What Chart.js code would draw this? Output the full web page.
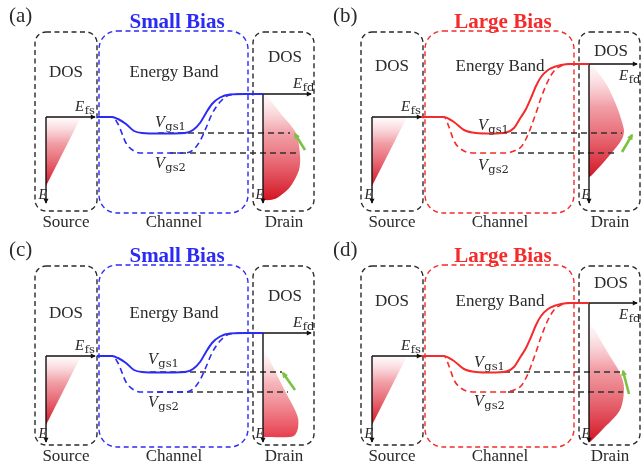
<!DOCTYPE html>
<html>
<head>
<meta charset="utf-8">
<script src="https://cdn.jsdelivr.net/npm/chart.js@4.4.0/dist/chart.umd.min.js"></script>
<style>
  html, body { margin: 0; padding: 0; background: #fff; }
  #wrap { position: relative; width: 642px; height: 468px; }
  #wrap canvas { position: absolute; }
</style>
</head>
<body>
<div id="wrap">
  <canvas id="pa" width="321" height="234" style="left:0;top:0"></canvas>
  <canvas id="pb" width="321" height="234" style="left:321px;top:0"></canvas>
  <canvas id="pc" width="321" height="234" style="left:0;top:234px"></canvas>
  <canvas id="pd" width="321" height="234" style="left:321px;top:234px"></canvas>
</div>
<script>
// band profile: position along the device vs energy (relative to E_fs)
const smallBiasPos = [97, 112, 118, 126, 134, 142, 160, 185, 193, 200, 206, 212, 220, 230, 245, 263];
const smallBiasVgs1 = [0, 0, -2, -7, -14, -16, -16.5, -16, -13, -6, 4, 13, 19.5, 22.5, 23, 23];
const smallBiasVgs2 = [0, 0, -7, -26, -34, -36, -36, -36, -33, -24, -11, 3, 15, 22, 23, 23];

const largeBiasPos = [95, 118, 123, 128, 138, 150, 165, 180, 188, 195, 200, 205, 210, 215, 222, 228, 235, 245, 263];
const largeBiasVgs1 = [0, 0, -2, -5, -13, -16, -16.5, -15.5, -11, 0, 8, 19, 31, 40, 47, 50, 52, 53, 53];
const largeBiasVgs2 = [0, 0, -10, -24, -34, -36, -36, -36, -34, -30, -22, -10, 4, 19, 36, 46, 51, 53, 53];

const vgsLevels = [-16, -36];
const drainFermi = [23, 53, 23, 53]; // panels a..d

// where the dashed Vgs reference lines run (position from, to)
const refVgs1Span = [[158, 290], [175, 296], [150, 282], [178, 294]];
const refVgs2Span = [[170, 298], [192, 289], [157, 288], [182, 297]];

// density of states (width from the axis) vs energy
const sourceDos = [0, 35, 0];
const sourceDosE = [0, 0, -69];
const drainDos = [
  [0, 3, 18, 33, 37, 36, 27, 14, 7, 0],
  [0, 3, 11, 19, 28, 33, 35, 33, 25, 14, 2, 0],
  [0, 2, 12, 22, 31, 35, 35, 32, 27, 0],
  [0, 2, 19, 31, 35, 31, 13, 1, 0]
];
const drainDosE = [
  [23, 22, 3, -16, -38, -53, -70, -81, -83, -83],
  [53, 52, 42, 30, 10, -5, -14, -22, -33, -46, -59, -60],
  [5, 5, -15, -35, -52, -62, -72, -79, -81, -81],
  [32, 32, 3, -17, -32, -54, -74, -86, -86]
];

// green shift arrows: [position, energy] from -> to
const shiftFrom = [[305, -33], [296, -35], [295, -34], [303, -38]];
const shiftTo = [[295, -17], [306, -18], [283, -17], [297, -15]];

const SOURCE_AXIS = 46, DRAIN_AXIS = 263, AXIS_BOTTOM = -86;
const SERIF = "'Liberation Serif', 'Times New Roman', serif";
const SUBF = "'DejaVu Serif', serif";
const INK = '#2a2a2a';
const BLUE = '#2b2bf6', RED = '#f52a2a', GREEN = '#7cc142';

const deepFill = ['rgba(240,150,160,0.04)', 'rgba(230,78,92,0.55)', 'rgba(212,20,35,1)'];
const softFill = ['rgba(240,150,160,0.02)', 'rgba(236,105,115,0.5)', 'rgba(230,52,68,0.95)'];

const panels = [
  { id: 'pa', tag: '(a)', title: 'Small Bias', large: false, color: BLUE, xMin: 0, eTop: 117, tagX: 9, dosY: 73, drainDosY: 58, vgsX: 155, vgs1Y: -10, vgs2Y: -51, efdBelow: false, fill: deepFill },
  { id: 'pb', tag: '(b)', title: 'Large Bias', large: true, color: RED, xMin: -5, eTop: 117, tagX: 12, dosY: 67, drainDosY: 52, vgsX: 152, vgs1Y: -13, vgs2Y: -53, efdBelow: true, fill: deepFill },
  { id: 'pc', tag: '(c)', title: 'Small Bias', large: false, color: BLUE, xMin: 0, eTop: 122, tagX: 9, dosY: 80, drainDosY: 63, vgsX: 148, vgs1Y: -8, vgs2Y: -51, efdBelow: false, fill: softFill },
  { id: 'pd', tag: '(d)', title: 'Large Bias', large: true, color: RED, xMin: -5, eTop: 122, tagX: 12, dosY: 68, drainDosY: 50, vgsX: 148, vgs1Y: -11, vgs2Y: -50, efdBelow: true, fill: deepFill }
];

const regionBoxes = [
  { x0: 35, x1: 97, r: 11, accent: false },
  { x0: 99, x1: 248, r: 18, accent: true },
  { x0: 253, x1: 314, r: 11, accent: false }
];

function roundBox(ctx, x0, y0, x1, y1, r) {
  ctx.beginPath();
  ctx.moveTo(x0 + r, y0);
  ctx.lineTo(x1 - r, y0);
  ctx.arcTo(x1, y0, x1, y0 + r, r);
  ctx.lineTo(x1, y1 - r);
  ctx.arcTo(x1, y1, x1 - r, y1, r);
  ctx.lineTo(x0 + r, y1);
  ctx.arcTo(x0, y1, x0, y1 - r, r);
  ctx.lineTo(x0, y0 + r);
  ctx.arcTo(x0, y0, x0 + r, y0, r);
  ctx.closePath();
}

function subLabel(ctx, x, y, main, sub, size, subSize) {
  ctx.textAlign = 'left';
  ctx.textBaseline = 'alphabetic';
  ctx.font = 'italic ' + size + 'px ' + SERIF;
  ctx.fillText(main, x, y);
  const w = ctx.measureText(main).width;
  ctx.font = subSize + 'px ' + SUBF;
  ctx.fillText(sub, x + w + 0.5, y + 3);
}

function plainText(ctx, txt, x, y, font, align, base) {
  ctx.font = font;
  ctx.textAlign = align || 'center';
  ctx.textBaseline = base || 'middle';
  ctx.fillText(txt, x, y);
}

const schematic = {
  id: 'schematic',
  beforeDatasetsDraw(chart, args, p) {
    const ctx = chart.ctx, xs = chart.scales.x;
    ctx.save();
    ctx.lineWidth = 1.4;
    ctx.setLineDash([5, 3.5]);
    regionBoxes.forEach(b => {
      ctx.strokeStyle = b.accent ? p.color : INK;
      roundBox(ctx, xs.getPixelForValue(b.x0), b.accent ? 31 : 32,
        xs.getPixelForValue(b.x1), b.accent ? 213 : 211, b.r);
      ctx.stroke();
    });
    ctx.restore();
  },
  afterDatasetsDraw(chart, args, p) {
    const ctx = chart.ctx, xs = chart.scales.x, ys = chart.scales.y;
    const X = v => xs.getPixelForValue(v), Y = v => ys.getPixelForValue(v);

    // arrow heads at the end of flagged datasets
    chart.data.datasets.forEach((ds, i) => {
      if (!ds.arrow) return;
      const pts = chart.getDatasetMeta(i).data;
      const a = pts[pts.length - 2], b = pts[pts.length - 1];
      const ang = Math.atan2(b.y - a.y, b.x - a.x);
      const len = ds.arrow, w = len * 0.5;
      const tx = b.x + Math.cos(ang) * ds.borderWidth * 0.6, ty = b.y + Math.sin(ang) * ds.borderWidth * 0.6;
      ctx.save();
      ctx.fillStyle = ds.borderColor;
      ctx.beginPath();
      ctx.moveTo(tx, ty);
      ctx.lineTo(tx - len * Math.cos(ang) + w * Math.sin(ang), ty - len * Math.sin(ang) - w * Math.cos(ang));
      ctx.lineTo(tx - len * Math.cos(ang) - w * Math.sin(ang), ty - len * Math.sin(ang) + w * Math.cos(ang));
      ctx.closePath();
      ctx.fill();
      ctx.restore();
    });

    ctx.save();
    ctx.fillStyle = INK;
    plainText(ctx, p.tag, p.tagX, 22, '21px ' + SERIF, 'left', 'alphabetic');
    plainText(ctx, 'DOS', X(66), p.dosY, '17px ' + SERIF);
    plainText(ctx, 'Energy Band', X(174), p.dosY, '17px ' + SERIF);
    plainText(ctx, 'DOS', X(285), p.drainDosY, '17px ' + SERIF);
    plainText(ctx, 'Source', X(66), 227, '17px ' + SERIF, 'center', 'alphabetic');
    plainText(ctx, 'Channel', X(174), 227, '17px ' + SERIF, 'center', 'alphabetic');
    plainText(ctx, 'Drain', X(284), 227, '17px ' + SERIF, 'center', 'alphabetic');

    const efd = drainFermi[p.idx];
    subLabel(ctx, X(75), Y(6), 'E', 'fs', 15, 11.5);
    subLabel(ctx, X(293), Y(p.efdBelow ? efd - 16 : efd + 6), 'E', 'fd', 15, 11.5);
    subLabel(ctx, X(p.vgsX), Y(p.vgs1Y), 'V', 'gs1', 16, 11.5);
    subLabel(ctx, X(p.vgsX), Y(p.vgs2Y), 'V', 'gs2', 16, 11.5);
    ctx.font = 'italic 14px ' + SERIF;
    ctx.textAlign = 'right';
    ctx.textBaseline = 'alphabetic';
    ctx.fillText('E', X(SOURCE_AXIS) + 1, Y(-82));
    ctx.fillText('E', X(DRAIN_AXIS) + 1, Y(-82));

    ctx.fillStyle = p.color;
    plainText(ctx, p.title, X(177), 28, 'bold 21px ' + SERIF, 'center', 'alphabetic');
    ctx.restore();
  }
};

function dosGradient(stops, eTop, eBot) {
  return function (c) {
    const chart = c.chart;
    if (!chart.chartArea) return 'rgba(0,0,0,0)';
    const ys = chart.scales.y;
    const g = chart.ctx.createLinearGradient(0, ys.getPixelForValue(eTop), 0, ys.getPixelForValue(eBot));
    g.addColorStop(0, stops[0]);
    g.addColorStop(0.38, stops[1]);
    g.addColorStop(1, stops[2]);
    return g;
  };
}

function points(xs, ys, offset) {
  return xs.map((x, i) => ({ x: x + (offset || 0), y: ys[i] }));
}

panels.forEach((p, idx) => {
  p.idx = idx;
  const pos = p.large ? largeBiasPos : smallBiasPos;
  const v1 = p.large ? largeBiasVgs1 : smallBiasVgs1;
  const v2 = p.large ? largeBiasVgs2 : smallBiasVgs2;
  const efd = drainFermi[idx];
  const dE = drainDosE[idx];

  const datasets = [
    { label: 'Vgs1', data: points(pos, v1), borderColor: p.color, borderWidth: 2,
      cubicInterpolationMode: 'monotone', order: 0 },
    { label: 'Vgs2', data: points(pos, v2), borderColor: p.color, borderWidth: 1.6,
      borderDash: [6, 4], cubicInterpolationMode: 'monotone', order: 1 },
    { label: 'shift', data: [{ x: shiftFrom[idx][0], y: shiftFrom[idx][1] }, { x: shiftTo[idx][0], y: shiftTo[idx][1] }],
      borderColor: GREEN, borderWidth: 2.6, arrow: 6, order: 2 },
    { label: 'src E axis', data: [{ x: SOURCE_AXIS, y: 0 }, { x: SOURCE_AXIS, y: AXIS_BOTTOM }],
      borderColor: '#111', borderWidth: 1.4, arrow: 5, order: 3 },
    { label: 'src DOS axis', data: [{ x: SOURCE_AXIS, y: 0 }, { x: 95, y: 0 }],
      borderColor: '#111', borderWidth: 1.4, arrow: 5, order: 3 },
    { label: 'drn E axis', data: [{ x: DRAIN_AXIS, y: efd }, { x: DRAIN_AXIS, y: AXIS_BOTTOM }],
      borderColor: '#111', borderWidth: 1.4, arrow: 5, order: 3 },
    { label: 'drn DOS axis', data: [{ x: DRAIN_AXIS, y: efd }, { x: 311, y: efd }],
      borderColor: '#111', borderWidth: 1.4, arrow: 5, order: 3 },
    { label: 'ref Vgs1', data: refVgs1Span[idx].map(x => ({ x, y: vgsLevels[0] })),
      borderColor: '#333', borderWidth: 1.3, borderDash: [6, 4], order: 4 },
    { label: 'ref Vgs2', data: refVgs2Span[idx].map(x => ({ x, y: vgsLevels[1] })),
      borderColor: '#333', borderWidth: 1.3, borderDash: [6, 4], order: 4 },
    { label: 'source DOS', data: points(sourceDos, sourceDosE, SOURCE_AXIS), borderWidth: 0,
      borderColor: 'rgba(0,0,0,0)', fill: 'shape', tension: 0,
      backgroundColor: dosGradient(deepFill, 0, sourceDosE[2]), order: 5 },
    { label: 'drain DOS', data: points(drainDos[idx], dE, DRAIN_AXIS), borderWidth: 0,
      borderColor: 'rgba(0,0,0,0)', fill: 'shape', tension: 0.3,
      backgroundColor: dosGradient(p.fill, dE[0], dE[dE.length - 1]), order: 5 }
  ];

  new Chart(document.getElementById(p.id), {
    type: 'line',
    data: { datasets },
    options: {
      responsive: false,
      animation: false,
      devicePixelRatio: 1,
      layout: { padding: 0 },
      elements: { point: { radius: 0 } },
      scales: {
        x: { type: 'linear', display: false, bounds: 'data', min: p.xMin, max: p.xMin + 321 },
        y: { type: 'linear', display: false, bounds: 'data', min: p.eTop - 234, max: p.eTop }
      },
      plugins: {
        legend: { display: false },
        tooltip: { enabled: false },
        schematic: p
      }
    },
    plugins: [schematic]
  });
});
</script>
</body>
</html>
